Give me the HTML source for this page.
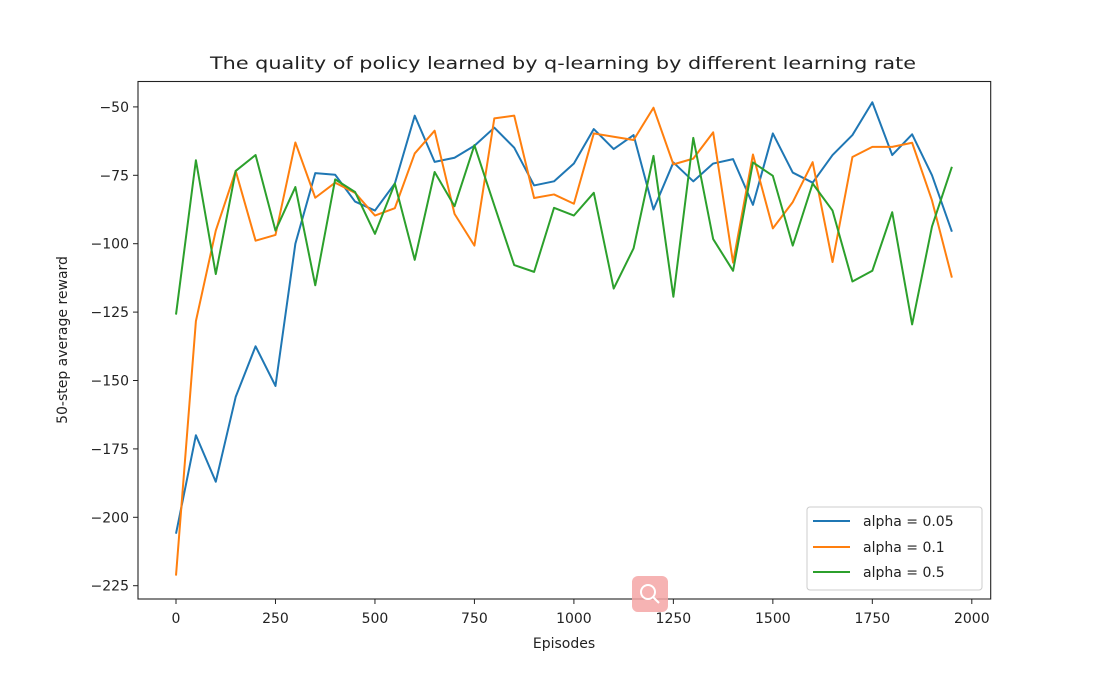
<!DOCTYPE html>
<html><head><meta charset="utf-8"><style>
html,body{margin:0;padding:0;background:#fff;}
svg text{font-family:"DejaVu Sans","Liberation Sans",sans-serif;fill:#222;}
</style></head><body>
<svg id="chart" width="1100" height="673" viewBox="0 0 1100 673" xmlns="http://www.w3.org/2000/svg">
<rect x="0" y="0" width="1100" height="673" fill="#fff"/>
<text x="563" y="69" text-anchor="middle" font-size="16.5" textLength="706" lengthAdjust="spacingAndGlyphs">The quality of policy learned by q-learning by different learning rate</text>
<text transform="translate(67,340) rotate(-90)" text-anchor="middle" font-size="14">50-step average reward</text>
<text x="564" y="648" text-anchor="middle" font-size="14">Episodes</text>
<g id="grid"></g>
<g id="series"></g>
<rect x="138" y="81.5" width="852.7" height="517.5" fill="none" stroke="#222" stroke-width="1.1"/>
<g id="legend">
<rect x="807" y="507" width="175" height="83" rx="3" fill="#fff" fill-opacity="0.85" stroke="#ccc"/>
<line x1="813" y1="521" x2="850" y2="521" stroke="#1f77b4" stroke-width="2"/>
<text x="863" y="526" font-size="14">alpha = 0.05</text>
<line x1="813" y1="547" x2="850" y2="547" stroke="#ff7f0e" stroke-width="2"/>
<text x="863" y="552" font-size="14">alpha = 0.1</text>
<line x1="813" y1="572" x2="850" y2="572" stroke="#2ca02c" stroke-width="2"/>
<text x="863" y="577" font-size="14">alpha = 0.5</text>
</g>
<g>
<rect x="632" y="576" width="36" height="36" rx="6" fill="#f4a6a6" opacity="0.85"/>
<circle cx="648" cy="592" r="7" fill="none" stroke="#fff" stroke-width="2"/>
<line x1="653" y1="597" x2="659" y2="603" stroke="#fff" stroke-width="2"/>
</g>
</svg>
<script>
const episodes = [];
for (let e = 0; e <= 1950; e += 50) episodes.push(e);
const alpha005 = [-206,-170,-187,-156,-137.5,-152,-100,-74.2,-74.8,-84.6,-87.9,-78,-53.2,-70.1,-68.6,-64.2,-57.6,-64.9,-78.7,-77.2,
  -70.7,-58.1,-65.4,-60.3,-87.5,-70.3,-77.2,-70.7,-69.1,-85.8,-59.7,-74,-77.7,-67.6,-60.3,-48.3,-67.6,-60,-75,-95.6];
const alpha01 = [-221.3,-128.3,-95.2,-73.4,-98.9,-96.8,-63,-83.2,-77.7,-81.4,-89.7,-87,-67,-58.7,-89.1,-100.7,-54.2,-53.2,-83.3,-82,
  -85.4,-59.7,-60.9,-62.1,-50.3,-71,-68.9,-59.3,-106.9,-67.4,-94.4,-84.8,-70.2,-106.7,-68.3,-64.6,-64.6,-63.1,-84.2,-112.4];
const alpha05 = [-125.9,-69.5,-111.1,-73.4,-67.6,-95.2,-79.3,-115.2,-76.5,-81.1,-96.4,-78,-105.9,-73.8,-86.3,-64,-86,-107.8,-110.3,-86.9,
  -89.7,-81.4,-116.4,-101.7,-67.9,-119.4,-61.3,-98.3,-109.9,-70.3,-75.2,-100.7,-78,-87.9,-113.8,-109.9,-88.5,-129.5,-93.7,-71.9];
const xTicks = [0,250,500,750,1000,1250,1500,1750,2000];
const yTicks = [-50,-75,-100,-125,-150,-175,-200,-225];

const NS = "http://www.w3.org/2000/svg";
const xScale = e => 176 + e * 0.3979;
const yScale = v => 517.3 + (-200 - v) * 2.736;
const grid = document.getElementById('grid');
const series = document.getElementById('series');
function mk(tag, attrs, parent){const el=document.createElementNS(NS,tag);for(const k in attrs)el.setAttribute(k,attrs[k]);parent.appendChild(el);return el;}

xTicks.forEach(t=>{
  const x=xScale(t);
  const tk=mk('line',{x1:x,y1:599,x2:x,y2:604,stroke:'#222','stroke-width':1},grid);
  
  
  const tx=mk('text',{x:x,y:623,'text-anchor':'middle','font-size':14},grid);
  tx.textContent=String(t);
  
  
});
yTicks.forEach(t=>{
  const y=yScale(t);
  const tk=mk('line',{x1:133,y1:y,x2:138,y2:y,stroke:'#222','stroke-width':1},grid);
  
  
  const tx=mk('text',{x:129,y:y+5,'text-anchor':'end','font-size':14},grid);
  tx.textContent='\u2212'+String(Math.abs(t));
  
  
});
function drawLine(vals,color,name){
  const pts=vals.map((v,i)=>xScale(episodes[i]).toFixed(2)+','+yScale(v).toFixed(2)).join(' ');
  const pl=mk('polyline',{points:pts,fill:'none',stroke:color,'stroke-width':2,'stroke-linejoin':'round'},series);
  
  
}
drawLine(alpha005,'#1f77b4','line-alpha-005');
drawLine(alpha01,'#ff7f0e','line-alpha-01');
drawLine(alpha05,'#2ca02c','line-alpha-05');
</script>
</body></html>
